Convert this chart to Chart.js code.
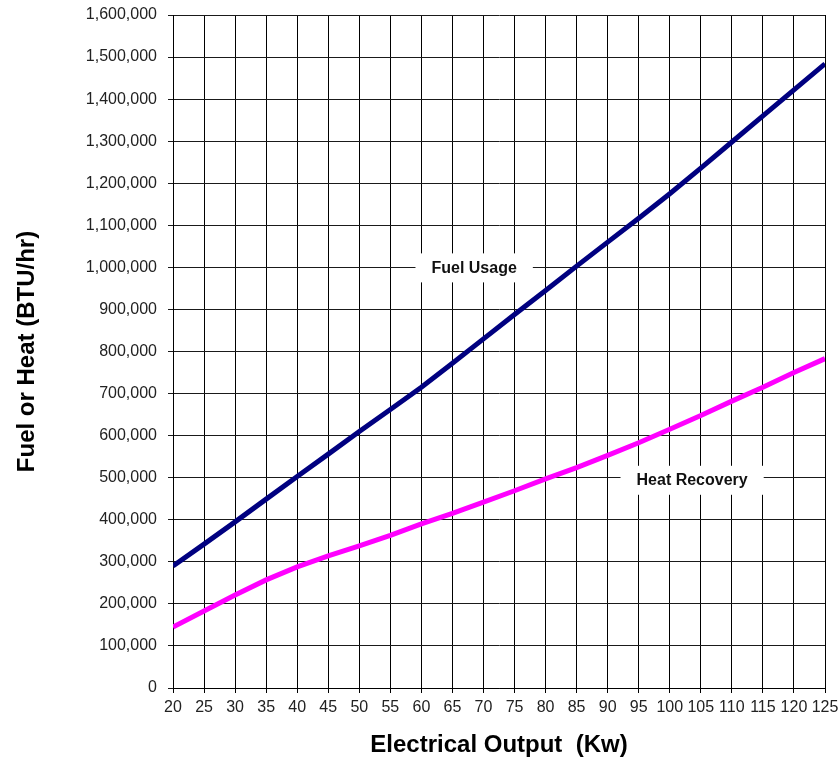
<!DOCTYPE html>
<html>
<head>
<meta charset="utf-8">
<script src="https://cdn.jsdelivr.net/npm/chart.js@4/dist/chart.umd.min.js"></script>
<style>
  html, body { margin: 0; padding: 0; background: #fff; }
  #chart { display: block; }
</style>
</head>
<body>
<canvas id="chart" width="840" height="761"></canvas>
<script>
// electrical output, kW
const outputKw = [20, 25, 30, 35, 40, 45, 50, 55, 60, 65, 70, 75, 80, 85, 90, 95, 100, 105, 110, 115, 120, 125];

// BTU/hr
const fuelUsage = [290000, 342000, 395000, 449000, 503000, 556000, 610000, 662000, 715000, 772000, 830000,
  888000, 945000, 1003000, 1060000, 1117000, 1175000, 1236000, 1298000, 1360000, 1422000, 1484000];
const heatRecovery = [145000, 183000, 221000, 257000, 288000, 314000, 338000, 363000, 390000, 415000, 442000,
  469000, 497000, 524000, 553000, 583000, 615000, 648000, 682000, 715000, 750000, 783000];

const seriesNames = ['Fuel Usage', 'Heat Recovery'];
// where the in-plot labels sit (data units)
const labelSpots = [
  { text: 'Fuel Usage', x: 68.5, y: 1000000 },
  { text: 'Heat Recovery', x: 103.6, y: 495000 },
];

const FONT = '"Liberation Sans", Arial, sans-serif';

const toPoints = (ys) => outputKw.map((x, i) => ({ x, y: ys[i] }));

const seriesLabels = {
  id: 'seriesLabels',
  beforeDatasetsDraw(chart) {
    const { ctx, scales } = chart;
    ctx.save();
    ctx.font = 'bold 16px ' + FONT;
    ctx.textAlign = 'center';
    ctx.textBaseline = 'middle';
    labelSpots.forEach((spot) => {
      const px = scales.x.getPixelForValue(spot.x);
      const py = scales.y.getPixelForValue(spot.y);
      const w = ctx.measureText(spot.text).width + 32;
      ctx.fillStyle = '#fff';
      ctx.fillRect(px - w / 2, py - 14, w, 29);
      ctx.fillStyle = '#111';
      ctx.fillText(spot.text, px, py + 1);
    });
    ctx.restore();
  },
};

new Chart(document.getElementById('chart').getContext('2d'), {
  type: 'line',
  data: {
    datasets: [
      {
        label: seriesNames[0],
        data: toPoints(fuelUsage),
        borderColor: '#000080',
        borderWidth: 5,
        pointRadius: 0,
        tension: 0,
      },
      {
        label: seriesNames[1],
        data: toPoints(heatRecovery),
        borderColor: '#ff00ff',
        borderWidth: 5,
        pointRadius: 0,
        tension: 0,
      },
    ],
  },
  options: {
    responsive: false,
    animation: false,
    layout: { padding: { left: 0, right: 15, top: 15, bottom: 0 } },
    plugins: {
      legend: { display: false },
      tooltip: { enabled: false },
    },
    scales: {
      x: {
        type: 'linear',
        min: 20,
        max: 125,
        afterFit: (scale) => {
          scale.height = 73;
          scale.paddingLeft = 0;
          scale.paddingRight = 0;
        },
        ticks: {
          stepSize: 5,
          color: '#222',
          padding: 5,
          maxRotation: 0,
          autoSkip: false,
          font: { family: FONT, size: 16 },
        },
        grid: { color: '#000', lineWidth: 1, tickLength: 5 },
        border: { color: '#000', width: 1 },
        title: {
          display: true,
          text: 'Electrical Output  (Kw)',
          color: '#000',
          font: { family: FONT, size: 24, weight: 'bold' },
          padding: { top: 0, bottom: 1 },
        },
      },
      y: {
        min: 0,
        max: 1600000,
        afterFit: (scale) => {
          scale.width = 173;
          scale.paddingTop = 0;
          scale.paddingBottom = 0;
        },
        ticks: {
          stepSize: 100000,
          color: '#222',
          padding: 11,
          font: { family: FONT, size: 16 },
          callback: (v) => v.toLocaleString('en-US'),
        },
        grid: { color: '#1a1a1a', lineWidth: 1, tickLength: 5 },
        border: { color: '#000', width: 1 },
        title: {
          display: true,
          text: 'Fuel or Heat (BTU/hr)',
          color: '#000',
          font: { family: FONT, size: 24, weight: 'bold' },
          padding: { top: 13, bottom: 0 },
        },
      },
    },
  },
  plugins: [seriesLabels],
});
</script>
</body>
</html>
